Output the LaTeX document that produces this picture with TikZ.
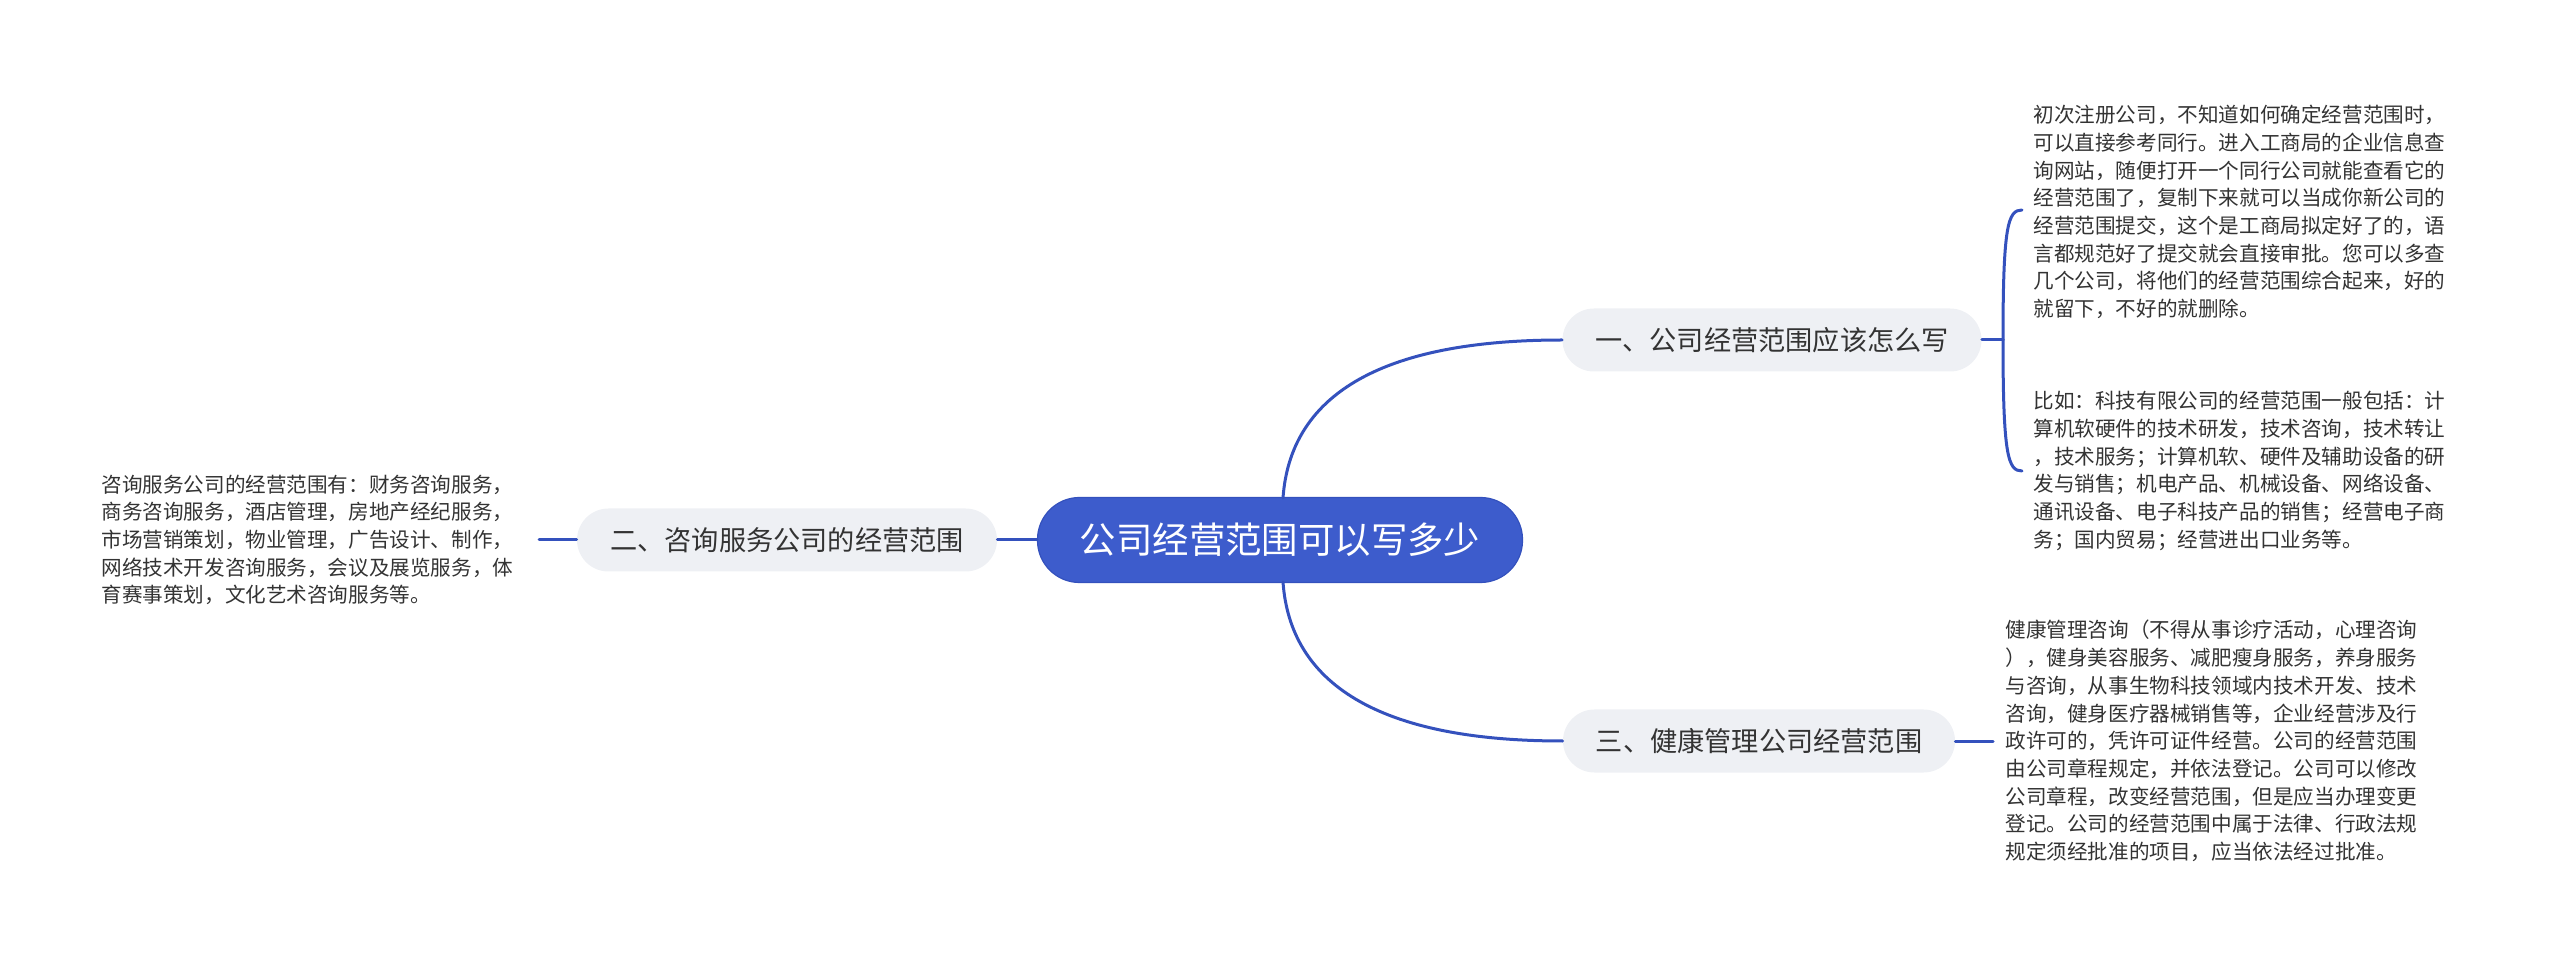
\documentclass[tikz,border=0pt]{standalone}
\usepackage{fontspec}
\setmainfont{Noto Sans CJK SC}
\definecolor{lineblue}{HTML}{3451BD}
\definecolor{rootblue}{HTML}{3D5CCC}
\definecolor{subgrey}{HTML}{EEF0F4}
\definecolor{txt}{HTML}{333333}
\begin{document}
\begin{tikzpicture}[x=0.5pt,y=-0.5pt,
  rootnode/.style={fill=rootblue,draw=lineblue,line width=0.6pt,rounded corners=21pt,minimum width=242.5pt,minimum height=42.5pt,inner sep=0pt,text=white,font=\fontsize{18.2}{22}\selectfont},
  subnode/.style={fill=subgrey,rounded corners=15.7pt,minimum height=31.5pt,inner sep=0pt,text=txt,font=\fontsize{13.6}{16}\selectfont},
  leaf/.style={anchor=west,inner sep=0pt,align=left,text=txt,font=\fontsize{10.3}{13.85}\selectfont},
  conn/.style={draw=lineblue,line width=1.5pt,line cap=round}]
\useasboundingbox (0,0) rectangle (2560,967);
\node[rootnode] (root) at (1280,540) {公司经营范围可以写多少};
\node[subnode,minimum width=209.5pt] (s1) at (1772,340) {一、公司经营范围应该怎么写};
\node[subnode,minimum width=210pt] (s2) at (787,540) {二、咨询服务公司的经营范围};
\node[subnode,minimum width=196pt] (s3) at (1759,741) {三、健康管理公司经营范围};
\node[leaf] (a) at (2033,212) {初次注册公司，不知道如何确定经营范围时，\\可以直接参考同行。进入工商局的企业信息查\\询网站，随便打开一个同行公司就能查看它的\\经营范围了，复制下来就可以当成你新公司的\\经营范围提交，这个是工商局拟定好了的，语\\言都规范好了提交就会直接审批。您可以多查\\几个公司，将他们的经营范围综合起来，好的\\就留下，不好的就删除。};
\node[leaf] (b) at (2033,471) {比如：科技有限公司的经营范围一般包括：计\\算机软硬件的技术研发，技术咨询，技术转让\\，技术服务；计算机软、硬件及辅助设备的研\\发与销售；机电产品、机械设备、网络设备、\\通讯设备、电子科技产品的销售；经营电子商\\务；国内贸易；经营进出口业务等。};
\node[leaf] (c) at (2005,741) {健康管理咨询（不得从事诊疗活动，心理咨询\\），健身美容服务、减肥瘦身服务，养身服务\\与咨询，从事生物科技领域内技术开发、技术\\咨询，健身医疗器械销售等，企业经营涉及行\\政许可的，凭许可证件经营。公司的经营范围\\由公司章程规定，并依法登记。公司可以修改\\公司章程，改变经营范围，但是应当办理变更\\登记。公司的经营范围中属于法律、行政法规\\规定须经批准的项目，应当依法经过批准。};
\node[leaf] (d) at (101,540) {咨询服务公司的经营范围有：财务咨询服务，\\商务咨询服务，酒店管理，房地产经纪服务，\\市场营销策划，物业管理，广告设计、制作，\\网络技术开发咨询服务，会议及展览服务，体\\育赛事策划，文化艺术咨询服务等。};
\coordinate (rt) at (1283,498);
\coordinate (rb) at (1283,582);
\coordinate (br) at (2003,340);
\coordinate (bt) at (2022,210);
\coordinate (bb) at (2022,471);
\draw[conn] (rt) .. controls (1290,398) and (1376,340) .. (s1.west);
\draw[conn] (rb) .. controls (1290,682) and (1376,741) .. (s3.west);
\draw[conn] (root.west) -- (s2.east);
\draw[conn] (s1.east) -- (br);
\draw[conn] (br) .. controls (2003,225) and (2008,210) .. (bt);
\draw[conn] (br) .. controls (2003,456) and (2008,471) .. (bb);
\draw[conn] (s3.east) -- (1993,741);
\draw[conn] (s2.west) -- (539,540);
\end{tikzpicture}
\end{document}
